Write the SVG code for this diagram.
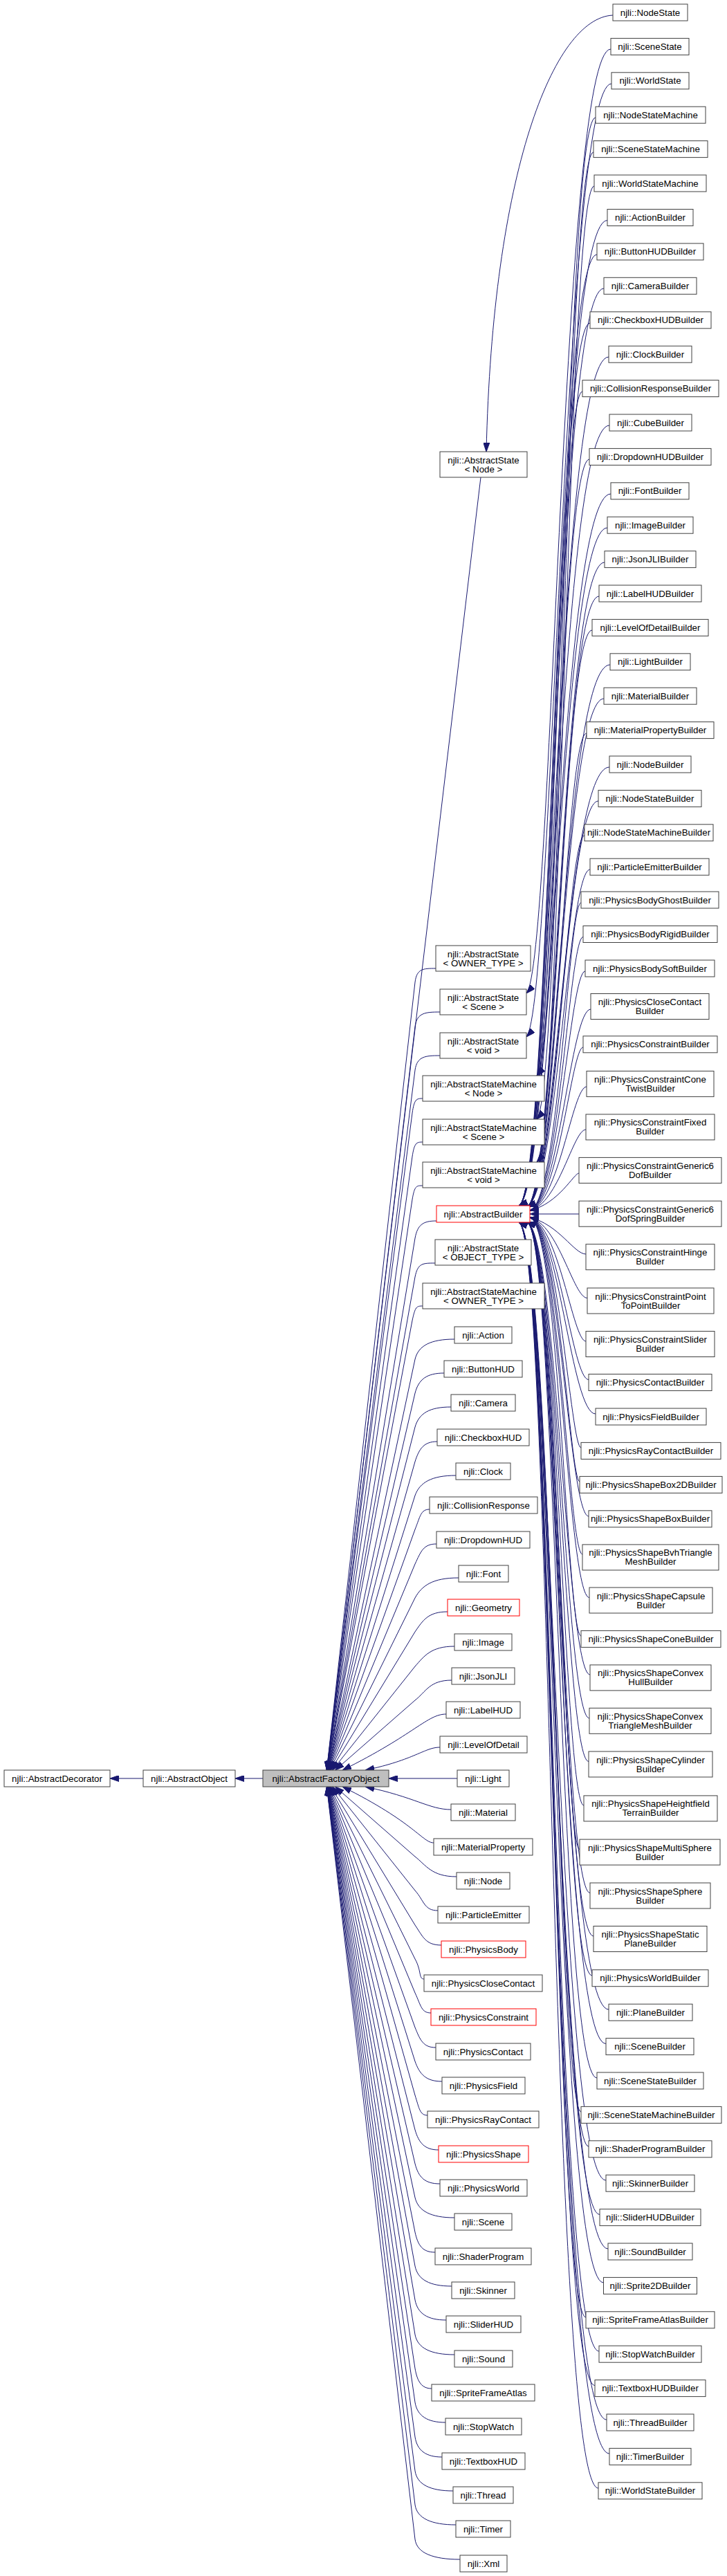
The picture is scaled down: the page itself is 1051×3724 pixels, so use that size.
<svg xmlns="http://www.w3.org/2000/svg" width="1051" height="3724" viewBox="0 0 1051 3724">
<style>
.node rect{fill:#ffffff;stroke:#404040;stroke-width:1}
.node.red rect{stroke:#ff0000}
.node.cur rect{fill:#bfbfbf}
.node text{font-family:"Liberation Sans",Arial,Helvetica,sans-serif;font-size:13.3px;text-anchor:middle;fill:#000000}
#edges path{fill:none;stroke:#191970;stroke-width:1;marker-end:url(#arr)}
</style>
<defs>
<marker id="arr" viewBox="0 0 13 9" refX="13" refY="4.5" markerWidth="13" markerHeight="9" markerUnits="userSpaceOnUse" orient="auto"><path d="M0,0 L13,4.5 L0,9 z" fill="#191970" stroke="#191970" stroke-width="1"/></marker>
</defs>
<rect x="0" y="0" width="1051" height="3724" fill="#ffffff"/>
<g id="edges">
<path d="M207,2571 L159,2571"/>
<path d="M380,2571 L340,2571"/>
<path d="M695,690 L472.4,2559"/>
<path d="M630,1400 C612,1400 602.5,1400 600,1420 L472.3,2559"/>
<path d="M636,1463 C615,1463 602.7,1464 600,1484 L472.4,2559"/>
<path d="M636,1526 C615,1526 602.8,1527 600,1547 L472.5,2559"/>
<path d="M611,1588 C602,1588 598.9,1589 596,1609 L472.6,2559"/>
<path d="M611,1651 C602,1651 599.1,1652 596,1672 L472.7,2559"/>
<path d="M611,1714 C602,1714 599.4,1714 596,1734 L472.8,2559"/>
<path d="M631,1765 C612,1765 603.7,1770 600,1790 L473,2559"/>
<path d="M629,1826 C611,1826 604,1826 600,1846 L473.1,2559"/>
<path d="M611,1888 C602,1888 600.3,1889 596,1909 L473.3,2559"/>
<path d="M657,1936 C623,1936 604.8,1945 600,1965 L473.6,2559"/>
<path d="M642,1985 C617,1985 605.2,1994 600,2014 L473.8,2559"/>
<path d="M652,2034 C621,2034 605.7,2043 600,2063 L474,2559"/>
<path d="M632,2084 C613,2084 606,2094 600,2113 L474.4,2559"/>
<path d="M659,2133 C624,2133 606.7,2143.1 600,2162 L474.8,2559"/>
<path d="M621,2182 C608,2182 607.5,2192.5 600,2211 L475.3,2559"/>
<path d="M631,2232 C612,2232 608.5,2242.9 600,2261 L476,2559"/>
<path d="M663,2281 C625,2281 609.7,2292.5 600,2310 L476.9,2559"/>
<path d="M647,2330 C619,2330 611.3,2342.5 600,2359 L478.3,2559"/>
<path d="M657,2380 C623,2380 613.3,2394.1 600,2409 L480.6,2559"/>
<path d="M653,2429 C621,2429 615.8,2445.7 600,2458 L484.7,2559"/>
<path d="M645,2478 C618,2478 600,2507 495.2,2559"/>
<path d="M636,2526 C614,2526 600,2544 528.3,2559"/>
<path d="M661,2571 L562,2571"/>
<path d="M652,2616 C621,2616 600,2598 528.3,2583"/>
<path d="M627,2664 C611,2664 600,2635 495.2,2583"/>
<path d="M660,2713 C624,2713 615.8,2696.3 600,2684 L484.7,2583"/>
<path d="M633,2762 C613,2762 613.3,2747.9 600,2733 L480.6,2583"/>
<path d="M638,2812 C615,2812 611.3,2799.5 600,2783 L478.3,2583"/>
<path d="M613,2861 C605,2861 609.7,2849.5 600,2832 L476.9,2583"/>
<path d="M623,2910 C609,2910 608.5,2899 600,2881 L476,2583"/>
<path d="M630,2960 C612,2960 607.5,2949.5 600,2931 L475.3,2583"/>
<path d="M639,3009 C616,3009 606.7,2998.9 600,2980 L474.8,2583"/>
<path d="M618,3058 C607,3058 606,3048 600,3029 L474.4,2583"/>
<path d="M634,3108 C614,3108 605.5,3098 600,3079 L474,2583"/>
<path d="M636,3157 C614,3157 605,3147.4 600,3128 L473.8,2583"/>
<path d="M657,3206 C623,3206 604.7,3196.5 600,3177 L473.6,2583"/>
<path d="M629,3256 C611,3256 604.3,3246.5 600,3227 L473.4,2583"/>
<path d="M653,3305 C621,3305 604,3295.6 600,3276 L473.2,2583"/>
<path d="M645,3354 C618,3354 603.8,3344.6 600,3325 L473.1,2583"/>
<path d="M657,3404 C623,3404 603.6,3394.7 600,3375 L472.9,2583"/>
<path d="M624,3453 C610,3453 603.4,3443.7 600,3424 L472.8,2583"/>
<path d="M644,3502 C618,3502 603.2,3492.7 600,3473 L472.7,2583"/>
<path d="M639,3552 C616,3552 603,3542.8 600,3523 L472.6,2583"/>
<path d="M655,3601 C622,3601 602.9,3591.8 600,3572 L472.5,2583"/>
<path d="M659,3650 C624,3650 602.7,3640.8 600,3621 L472.5,2583"/>
<path d="M665,3700 C626,3700 602.6,3690.8 600,3671 L472.4,2583"/>
<path d="M886,22 C800,26 712,250 703,653"/>
<path d="M883,71 C812,71 800,1395 761,1436"/>
<path d="M884,121 C814,121 800,1458 761,1499"/>
<path d="M861,170 C816,170 812,1515 776,1555"/>
<path d="M858,220 C818,220 812,1578 776,1618"/>
<path d="M859,269 C820,269 812,1640 776,1680"/>
<path d="M878,318.5 C800,318.5 798,1724 750,1743"/>
<path d="M863,368 C801,368 798,1724 750,1743"/>
<path d="M873,417 C802,417 798,1724 750,1743"/>
<path d="M853,467 C803,467 798,1724 750,1743"/>
<path d="M880,516 C804,516 798,1724 750,1743"/>
<path d="M842,566 C805.5,566 798,1724 750,1743"/>
<path d="M881,615 C806.6,615 798,1724 750,1743"/>
<path d="M852,664 C807.7,664 798,1724 750,1743"/>
<path d="M883,714 C808.8,714 798,1724 750,1743"/>
<path d="M878,763 C810,763 798,1724 750,1743"/>
<path d="M874,813 C811,813 805,1728 762,1744"/>
<path d="M866,862 C812,862 805,1728 762,1744"/>
<path d="M856,911 C813,911 805,1728 762,1744"/>
<path d="M882,961 C814,961 805,1728 762,1744"/>
<path d="M873,1010 C815,1010 805,1728 762,1744"/>
<path d="M848,1060 C816.5,1060 805,1728 762,1744"/>
<path d="M881,1109 C817.6,1109 805,1728 762,1744"/>
<path d="M865,1158 C818.7,1158 805,1728 762,1744"/>
<path d="M845,1208 C819.8,1208 805,1728 762,1744"/>
<path d="M853,1257 C821,1257 805,1728 762,1744"/>
<path d="M840,1305 C822,1305 808,1740 766,1750"/>
<path d="M843,1354.5 C823,1354.5 808,1740 766,1750"/>
<path d="M846,1404 C824,1404 808,1740 766,1750"/>
<path d="M854,1459 C825,1459 808,1740 766,1750"/>
<path d="M843,1514 C826,1514 808,1740 766,1750"/>
<path d="M848,1571 C827.5,1571 808,1740 766,1750"/>
<path d="M847,1633 C828.6,1633 808,1740 766,1750"/>
<path d="M837,1696 C829.7,1696 808,1740 766,1750"/>
<path d="M837,1755 L766,1755"/>
<path d="M847,1813 C830,1813 808,1770 766,1760"/>
<path d="M849,1876.5 C829,1876.5 808,1770 766,1760"/>
<path d="M847,1939 C828,1939 808,1770 766,1760"/>
<path d="M851,1994.5 C827,1994.5 808,1770 766,1760"/>
<path d="M861,2044 C826,2044 808,1770 766,1760"/>
<path d="M840,2093 C825,2093 808,1770 766,1760"/>
<path d="M838,2142 C824,2142 808,1770 766,1760"/>
<path d="M851,2192 C823,2192 808,1770 766,1760"/>
<path d="M842,2247 C822,2247 808,1770 766,1760"/>
<path d="M852,2309.5 C821,2309.5 808,1770 766,1760"/>
<path d="M840,2365 C819.5,2365 808,1770 766,1760"/>
<path d="M853,2421 C818.5,2421 805,1782 762,1767"/>
<path d="M852,2484 C817.4,2484 805,1782 762,1767"/>
<path d="M851,2546.5 C816.4,2546.5 805,1782 762,1767"/>
<path d="M844,2610 C815.3,2610 805,1782 762,1767"/>
<path d="M838,2673.5 C814.3,2673.5 805,1782 762,1767"/>
<path d="M853,2736.5 C813.2,2736.5 805,1782 762,1767"/>
<path d="M858,2799 C812.2,2799 805,1782 762,1767"/>
<path d="M856,2856 C811,2856 805,1782 762,1767"/>
<path d="M880,2905 C810,2905 805,1782 762,1767"/>
<path d="M876,2954.5 C809,2954.5 805,1782 762,1767"/>
<path d="M863,3004 C808,3004 805,1782 762,1767"/>
<path d="M840,3053 C807,3053 798,1786 750,1767"/>
<path d="M851,3103 C806,3103 798,1786 750,1767"/>
<path d="M876,3152 C805,3152 798,1786 750,1767"/>
<path d="M867,3201.5 C804,3201.5 798,1786 750,1767"/>
<path d="M879,3251 C803,3251 798,1786 750,1767"/>
<path d="M872.5,3300 C802,3300 798,1786 750,1767"/>
<path d="M847,3350 C801,3350 798,1786 750,1767"/>
<path d="M866,3399 C800,3399 798,1786 750,1767"/>
<path d="M860,3448.5 C798.5,3448.5 798,1786 750,1767"/>
<path d="M877,3498 C797.5,3498 798,1786 750,1767"/>
<path d="M881,3547 C796.4,3547 798,1786 750,1767"/>
<path d="M865,3597 C795.4,3597 798,1786 750,1767"/>
</g>
<g id="n_AbstractDecorator" class="node"><rect x="6" y="2559" width="153" height="24"/><text x="82.5" y="2575.5">njli::AbstractDecorator</text></g>
<g id="n_AbstractObject" class="node"><rect x="207" y="2559" width="133" height="24"/><text x="273.5" y="2575.5">njli::AbstractObject</text></g>
<g id="n_AbstractFactoryObject" class="node cur"><rect x="380" y="2559" width="182" height="24"/><text x="471" y="2575.5">njli::AbstractFactoryObject</text></g>
<g id="n_AbstractState_Node" class="node"><rect x="636" y="653" width="126" height="37"/><text x="699" y="669.5">njli::AbstractState</text><text x="699" y="682.5">&lt; Node &gt;</text></g>
<g id="n_AbstractState_OWNER" class="node"><rect x="630" y="1367" width="137" height="37"/><text x="698.5" y="1383.5">njli::AbstractState</text><text x="698.5" y="1396.5">&lt; OWNER_TYPE &gt;</text></g>
<g id="n_AbstractState_Scene" class="node"><rect x="636" y="1430" width="125" height="37"/><text x="698.5" y="1446.5">njli::AbstractState</text><text x="698.5" y="1459.5">&lt; Scene &gt;</text></g>
<g id="n_AbstractState_void" class="node"><rect x="636" y="1493" width="125" height="37"/><text x="698.5" y="1509.5">njli::AbstractState</text><text x="698.5" y="1522.5">&lt; void &gt;</text></g>
<g id="n_ASM_Node" class="node"><rect x="611" y="1555" width="176" height="37"/><text x="699" y="1571.5">njli::AbstractStateMachine</text><text x="699" y="1584.5">&lt; Node &gt;</text></g>
<g id="n_ASM_Scene" class="node"><rect x="611" y="1618" width="176" height="37"/><text x="699" y="1634.5">njli::AbstractStateMachine</text><text x="699" y="1647.5">&lt; Scene &gt;</text></g>
<g id="n_ASM_void" class="node"><rect x="611" y="1680" width="176" height="37"/><text x="699" y="1696.5">njli::AbstractStateMachine</text><text x="699" y="1709.5">&lt; void &gt;</text></g>
<g id="n_AbstractBuilder" class="node red"><rect x="631" y="1743" width="135" height="24"/><text x="698.5" y="1759.5">njli::AbstractBuilder</text></g>
<g id="n_AbstractState_OBJECT" class="node"><rect x="629" y="1792" width="139" height="37"/><text x="698.5" y="1808.5">njli::AbstractState</text><text x="698.5" y="1821.5">&lt; OBJECT_TYPE &gt;</text></g>
<g id="n_ASM_OWNER" class="node"><rect x="611" y="1855" width="176" height="37"/><text x="699" y="1871.5">njli::AbstractStateMachine</text><text x="699" y="1884.5">&lt; OWNER_TYPE &gt;</text></g>
<g id="n_Action" class="node"><rect x="657" y="1918" width="83" height="24"/><text x="698.5" y="1934.5">njli::Action</text></g>
<g id="n_ButtonHUD" class="node"><rect x="642" y="1967" width="113" height="24"/><text x="698.5" y="1983.5">njli::ButtonHUD</text></g>
<g id="n_Camera" class="node"><rect x="652" y="2016" width="93" height="24"/><text x="698.5" y="2032.5">njli::Camera</text></g>
<g id="n_CheckboxHUD" class="node"><rect x="632" y="2066" width="133" height="24"/><text x="698.5" y="2082.5">njli::CheckboxHUD</text></g>
<g id="n_Clock" class="node"><rect x="659" y="2115" width="79" height="24"/><text x="698.5" y="2131.5">njli::Clock</text></g>
<g id="n_CollisionResponse" class="node"><rect x="621" y="2164" width="156" height="24"/><text x="699" y="2180.5">njli::CollisionResponse</text></g>
<g id="n_DropdownHUD" class="node"><rect x="631" y="2214" width="135" height="24"/><text x="698.5" y="2230.5">njli::DropdownHUD</text></g>
<g id="n_Font" class="node"><rect x="663" y="2263" width="72" height="24"/><text x="699" y="2279.5">njli::Font</text></g>
<g id="n_Geometry" class="node red"><rect x="647" y="2312" width="104" height="24"/><text x="699" y="2328.5">njli::Geometry</text></g>
<g id="n_Image" class="node"><rect x="657" y="2362" width="83" height="24"/><text x="698.5" y="2378.5">njli::Image</text></g>
<g id="n_JsonJLI" class="node"><rect x="653" y="2411" width="91" height="24"/><text x="698.5" y="2427.5">njli::JsonJLI</text></g>
<g id="n_LabelHUD" class="node"><rect x="645" y="2460" width="107" height="24"/><text x="698.5" y="2476.5">njli::LabelHUD</text></g>
<g id="n_LevelOfDetail" class="node"><rect x="636" y="2510" width="126" height="24"/><text x="699" y="2526.5">njli::LevelOfDetail</text></g>
<g id="n_Light" class="node"><rect x="661" y="2559" width="75" height="24"/><text x="698.5" y="2575.5">njli::Light</text></g>
<g id="n_Material" class="node"><rect x="652" y="2608" width="93" height="24"/><text x="698.5" y="2624.5">njli::Material</text></g>
<g id="n_MaterialProperty" class="node"><rect x="627" y="2658" width="143" height="24"/><text x="698.5" y="2674.5">njli::MaterialProperty</text></g>
<g id="n_Node" class="node"><rect x="660" y="2707" width="77" height="24"/><text x="698.5" y="2723.5">njli::Node</text></g>
<g id="n_ParticleEmitter" class="node"><rect x="633" y="2756" width="132" height="24"/><text x="699" y="2772.5">njli::ParticleEmitter</text></g>
<g id="n_PhysicsBody" class="node red"><rect x="638" y="2806" width="122" height="24"/><text x="699" y="2822.5">njli::PhysicsBody</text></g>
<g id="n_PhysicsCloseContact" class="node"><rect x="613" y="2855" width="171" height="24"/><text x="698.5" y="2871.5">njli::PhysicsCloseContact</text></g>
<g id="n_PhysicsConstraint" class="node red"><rect x="623" y="2904" width="152" height="24"/><text x="699" y="2920.5">njli::PhysicsConstraint</text></g>
<g id="n_PhysicsContact" class="node"><rect x="630" y="2954" width="137" height="24"/><text x="698.5" y="2970.5">njli::PhysicsContact</text></g>
<g id="n_PhysicsField" class="node"><rect x="639" y="3003" width="120" height="24"/><text x="699" y="3019.5">njli::PhysicsField</text></g>
<g id="n_PhysicsRayContact" class="node"><rect x="618" y="3052" width="161" height="24"/><text x="698.5" y="3068.5">njli::PhysicsRayContact</text></g>
<g id="n_PhysicsShape" class="node red"><rect x="634" y="3102" width="130" height="24"/><text x="699" y="3118.5">njli::PhysicsShape</text></g>
<g id="n_PhysicsWorld" class="node"><rect x="636" y="3151" width="126" height="24"/><text x="699" y="3167.5">njli::PhysicsWorld</text></g>
<g id="n_Scene" class="node"><rect x="657" y="3200" width="83" height="24"/><text x="698.5" y="3216.5">njli::Scene</text></g>
<g id="n_ShaderProgram" class="node"><rect x="629" y="3250" width="139" height="24"/><text x="698.5" y="3266.5">njli::ShaderProgram</text></g>
<g id="n_Skinner" class="node"><rect x="653" y="3299" width="91" height="24"/><text x="698.5" y="3315.5">njli::Skinner</text></g>
<g id="n_SliderHUD" class="node"><rect x="645" y="3348" width="108" height="24"/><text x="699" y="3364.5">njli::SliderHUD</text></g>
<g id="n_Sound" class="node"><rect x="657" y="3398" width="84" height="24"/><text x="699" y="3414.5">njli::Sound</text></g>
<g id="n_SpriteFrameAtlas" class="node"><rect x="624" y="3447" width="149" height="24"/><text x="698.5" y="3463.5">njli::SpriteFrameAtlas</text></g>
<g id="n_StopWatch" class="node"><rect x="644" y="3496" width="110" height="24"/><text x="699" y="3512.5">njli::StopWatch</text></g>
<g id="n_TextboxHUD" class="node"><rect x="639" y="3546" width="120" height="24"/><text x="699" y="3562.5">njli::TextboxHUD</text></g>
<g id="n_Thread" class="node"><rect x="655" y="3595" width="87" height="24"/><text x="698.5" y="3611.5">njli::Thread</text></g>
<g id="n_Timer" class="node"><rect x="659" y="3644" width="79" height="24"/><text x="698.5" y="3660.5">njli::Timer</text></g>
<g id="n_Xml" class="node"><rect x="665" y="3694" width="68" height="24"/><text x="699" y="3710.5">njli::Xml</text></g>
<g id="n_NodeState" class="node"><rect x="886" y="6" width="108" height="24"/><text x="940" y="22.5">njli::NodeState</text></g>
<g id="n_SceneState" class="node"><rect x="883" y="55.4" width="113" height="24"/><text x="939.5" y="71.9">njli::SceneState</text></g>
<g id="n_WorldState" class="node"><rect x="884" y="104.8" width="112" height="24"/><text x="940" y="121.3">njli::WorldState</text></g>
<g id="n_NodeStateMachine" class="node"><rect x="861" y="154.2" width="159" height="24"/><text x="940.5" y="170.7">njli::NodeStateMachine</text></g>
<g id="n_SceneStateMachine" class="node"><rect x="858" y="203.6" width="165" height="24"/><text x="940.5" y="220.1">njli::SceneStateMachine</text></g>
<g id="n_WorldStateMachine" class="node"><rect x="859" y="253" width="162" height="24"/><text x="940" y="269.5">njli::WorldStateMachine</text></g>
<g id="n_ActionBuilder" class="node"><rect x="878" y="302.5" width="124" height="24"/><text x="940" y="319">njli::ActionBuilder</text></g>
<g id="n_ButtonHUDBuilder" class="node"><rect x="863" y="351.9" width="154" height="24"/><text x="940" y="368.4">njli::ButtonHUDBuilder</text></g>
<g id="n_CameraBuilder" class="node"><rect x="873" y="401.3" width="134" height="24"/><text x="940" y="417.8">njli::CameraBuilder</text></g>
<g id="n_CheckboxHUDBuilder" class="node"><rect x="853" y="450.8" width="175" height="24"/><text x="940.5" y="467.3">njli::CheckboxHUDBuilder</text></g>
<g id="n_ClockBuilder" class="node"><rect x="880" y="500.2" width="120" height="24"/><text x="940" y="516.7">njli::ClockBuilder</text></g>
<g id="n_CollisionResponseBuilder" class="node"><rect x="842" y="549.6" width="197" height="24"/><text x="940.5" y="566.1">njli::CollisionResponseBuilder</text></g>
<g id="n_CubeBuilder" class="node"><rect x="881" y="599" width="119" height="24"/><text x="940.5" y="615.5">njli::CubeBuilder</text></g>
<g id="n_DropdownHUDBuilder" class="node"><rect x="852" y="648.4" width="176" height="24"/><text x="940" y="664.9">njli::DropdownHUDBuilder</text></g>
<g id="n_FontBuilder" class="node"><rect x="883" y="697.8" width="113" height="24"/><text x="939.5" y="714.3">njli::FontBuilder</text></g>
<g id="n_ImageBuilder" class="node"><rect x="878" y="747.2" width="124" height="24"/><text x="940" y="763.7">njli::ImageBuilder</text></g>
<g id="n_JsonJLIBuilder" class="node"><rect x="874" y="796.6" width="132" height="24"/><text x="940" y="813.1">njli::JsonJLIBuilder</text></g>
<g id="n_LabelHUDBuilder" class="node"><rect x="866" y="846" width="148" height="24"/><text x="940" y="862.5">njli::LabelHUDBuilder</text></g>
<g id="n_LevelOfDetailBuilder" class="node"><rect x="856" y="895.4" width="168" height="24"/><text x="940" y="911.9">njli::LevelOfDetailBuilder</text></g>
<g id="n_LightBuilder" class="node"><rect x="882" y="944.8" width="116" height="24"/><text x="940" y="961.3">njli::LightBuilder</text></g>
<g id="n_MaterialBuilder" class="node"><rect x="873" y="994.2" width="134" height="24"/><text x="940" y="1010.7">njli::MaterialBuilder</text></g>
<g id="n_MaterialPropertyBuilder" class="node"><rect x="848" y="1043.6" width="184" height="24"/><text x="940" y="1060.1">njli::MaterialPropertyBuilder</text></g>
<g id="n_NodeBuilder" class="node"><rect x="881" y="1093" width="118" height="24"/><text x="940" y="1109.5">njli::NodeBuilder</text></g>
<g id="n_NodeStateBuilder" class="node"><rect x="865" y="1142.4" width="149" height="24"/><text x="939.5" y="1158.9">njli::NodeStateBuilder</text></g>
<g id="n_NodeStateMachineBuilder" class="node"><rect x="845" y="1191.8" width="186" height="24"/><text x="938" y="1208.3">njli::NodeStateMachineBuilder</text></g>
<g id="n_ParticleEmitterBuilder" class="node"><rect x="853" y="1241.2" width="172" height="24"/><text x="939" y="1257.7">njli::ParticleEmitterBuilder</text></g>
<g id="n_PhysicsBodyGhostBuilder" class="node"><rect x="840" y="1289" width="199" height="24"/><text x="939.5" y="1305.5">njli::PhysicsBodyGhostBuilder</text></g>
<g id="n_PhysicsBodyRigidBuilder" class="node"><rect x="843" y="1338.5" width="194" height="24"/><text x="940" y="1355">njli::PhysicsBodyRigidBuilder</text></g>
<g id="n_PhysicsBodySoftBuilder" class="node"><rect x="846" y="1388" width="187" height="24"/><text x="939.5" y="1404.5">njli::PhysicsBodySoftBuilder</text></g>
<g id="n_PhysicsCloseContactBuilder" class="node"><rect x="854" y="1436.5" width="171" height="37"/><text x="939.5" y="1453">njli::PhysicsCloseContact</text><text x="939.5" y="1466">Builder</text></g>
<g id="n_PhysicsConstraintBuilder" class="node"><rect x="843" y="1497.8" width="194" height="24"/><text x="940" y="1514.3">njli::PhysicsConstraintBuilder</text></g>
<g id="n_PhysicsConstraintConeTwistBuilder" class="node"><rect x="848" y="1548.4" width="184" height="37"/><text x="940" y="1564.9">njli::PhysicsConstraintCone</text><text x="940" y="1577.9">TwistBuilder</text></g>
<g id="n_PhysicsConstraintFixedBuilder" class="node"><rect x="847" y="1610.9" width="186" height="37"/><text x="940" y="1627.4">njli::PhysicsConstraintFixed</text><text x="940" y="1640.4">Builder</text></g>
<g id="n_PhysicsConstraintGeneric6DofBuilder" class="node"><rect x="837" y="1673.4" width="206" height="37"/><text x="940" y="1689.9">njli::PhysicsConstraintGeneric6</text><text x="940" y="1702.9">DofBuilder</text></g>
<g id="n_PhysicsConstraintGeneric6DofSpringBuilder" class="node"><rect x="837" y="1736.2" width="206" height="37"/><text x="940" y="1752.7">njli::PhysicsConstraintGeneric6</text><text x="940" y="1765.7">DofSpringBuilder</text></g>
<g id="n_PhysicsConstraintHingeBuilder" class="node"><rect x="847" y="1798.7" width="186" height="37"/><text x="940" y="1815.2">njli::PhysicsConstraintHinge</text><text x="940" y="1828.2">Builder</text></g>
<g id="n_PhysicsConstraintPointToPointBuilder" class="node"><rect x="849" y="1862" width="183" height="37"/><text x="940.5" y="1878.5">njli::PhysicsConstraintPoint</text><text x="940.5" y="1891.5">ToPointBuilder</text></g>
<g id="n_PhysicsConstraintSliderBuilder" class="node"><rect x="847" y="1924.5" width="186" height="37"/><text x="940" y="1941">njli::PhysicsConstraintSlider</text><text x="940" y="1954">Builder</text></g>
<g id="n_PhysicsContactBuilder" class="node"><rect x="851" y="1986.5" width="178" height="24"/><text x="940" y="2003">njli::PhysicsContactBuilder</text></g>
<g id="n_PhysicsFieldBuilder" class="node"><rect x="861" y="2036" width="160" height="24"/><text x="941" y="2052.5">njli::PhysicsFieldBuilder</text></g>
<g id="n_PhysicsRayContactBuilder" class="node"><rect x="840" y="2085.4" width="202" height="24"/><text x="941" y="2101.9">njli::PhysicsRayContactBuilder</text></g>
<g id="n_PhysicsShapeBox2DBuilder" class="node"><rect x="838" y="2134.4" width="206" height="24"/><text x="941" y="2150.9">njli::PhysicsShapeBox2DBuilder</text></g>
<g id="n_PhysicsShapeBoxBuilder" class="node"><rect x="851" y="2183.8" width="178" height="24"/><text x="940" y="2200.3">njli::PhysicsShapeBoxBuilder</text></g>
<g id="n_PhysicsShapeBvhTriangleMeshBuilder" class="node"><rect x="842" y="2232.9" width="197" height="37"/><text x="940.5" y="2249.4">njli::PhysicsShapeBvhTriangle</text><text x="940.5" y="2262.4">MeshBuilder</text></g>
<g id="n_PhysicsShapeCapsuleBuilder" class="node"><rect x="852" y="2295" width="178" height="37"/><text x="941" y="2311.5">njli::PhysicsShapeCapsule</text><text x="941" y="2324.5">Builder</text></g>
<g id="n_PhysicsShapeConeBuilder" class="node"><rect x="840" y="2357.4" width="202" height="24"/><text x="941" y="2373.9">njli::PhysicsShapeConeBuilder</text></g>
<g id="n_PhysicsShapeConvexHullBuilder" class="node"><rect x="853" y="2406.9" width="175" height="37"/><text x="940.5" y="2423.4">njli::PhysicsShapeConvex</text><text x="940.5" y="2436.4">HullBuilder</text></g>
<g id="n_PhysicsShapeConvexTriangleMeshBuilder" class="node"><rect x="852" y="2469.3" width="176" height="37"/><text x="940" y="2485.8">njli::PhysicsShapeConvex</text><text x="940" y="2498.8">TriangleMeshBuilder</text></g>
<g id="n_PhysicsShapeCylinderBuilder" class="node"><rect x="851" y="2532" width="179" height="37"/><text x="940.5" y="2548.5">njli::PhysicsShapeCylinder</text><text x="940.5" y="2561.5">Builder</text></g>
<g id="n_PhysicsShapeHeightfieldTerrainBuilder" class="node"><rect x="844" y="2595.9" width="193" height="37"/><text x="940.5" y="2612.4">njli::PhysicsShapeHeightfield</text><text x="940.5" y="2625.4">TerrainBuilder</text></g>
<g id="n_PhysicsShapeMultiSphereBuilder" class="node"><rect x="838" y="2659.1" width="203" height="37"/><text x="939.5" y="2675.6">njli::PhysicsShapeMultiSphere</text><text x="939.5" y="2688.6">Builder</text></g>
<g id="n_PhysicsShapeSphereBuilder" class="node"><rect x="853" y="2722" width="174" height="37"/><text x="940" y="2738.5">njli::PhysicsShapeSphere</text><text x="940" y="2751.5">Builder</text></g>
<g id="n_PhysicsShapeStaticPlaneBuilder" class="node"><rect x="858" y="2784.5" width="164" height="37"/><text x="940" y="2801">njli::PhysicsShapeStatic</text><text x="940" y="2814">PlaneBuilder</text></g>
<g id="n_PhysicsWorldBuilder" class="node"><rect x="856" y="2847.7" width="168" height="24"/><text x="940" y="2864.2">njli::PhysicsWorldBuilder</text></g>
<g id="n_PlaneBuilder" class="node"><rect x="880" y="2897.2" width="121" height="24"/><text x="940.5" y="2913.7">njli::PlaneBuilder</text></g>
<g id="n_SceneBuilder" class="node"><rect x="876" y="2946.6" width="127" height="24"/><text x="939.5" y="2963.1">njli::SceneBuilder</text></g>
<g id="n_SceneStateBuilder" class="node"><rect x="863" y="2996" width="154" height="24"/><text x="940" y="3012.5">njli::SceneStateBuilder</text></g>
<g id="n_SceneStateMachineBuilder" class="node"><rect x="840" y="3045.4" width="203" height="24"/><text x="941.5" y="3061.9">njli::SceneStateMachineBuilder</text></g>
<g id="n_ShaderProgramBuilder" class="node"><rect x="851" y="3094.8" width="178" height="24"/><text x="940" y="3111.3">njli::ShaderProgramBuilder</text></g>
<g id="n_SkinnerBuilder" class="node"><rect x="876" y="3144.2" width="128" height="24"/><text x="940" y="3160.7">njli::SkinnerBuilder</text></g>
<g id="n_SliderHUDBuilder" class="node"><rect x="867" y="3193.6" width="146" height="24"/><text x="940" y="3210.1">njli::SliderHUDBuilder</text></g>
<g id="n_SoundBuilder" class="node"><rect x="879" y="3243" width="122" height="24"/><text x="940" y="3259.5">njli::SoundBuilder</text></g>
<g id="n_Sprite2DBuilder" class="node"><rect x="872.5" y="3292.4" width="135" height="24"/><text x="940" y="3308.9">njli::Sprite2DBuilder</text></g>
<g id="n_SpriteFrameAtlasBuilder" class="node"><rect x="847" y="3341.8" width="186" height="24"/><text x="940" y="3358.3">njli::SpriteFrameAtlasBuilder</text></g>
<g id="n_StopWatchBuilder" class="node"><rect x="866" y="3391.2" width="148" height="24"/><text x="940" y="3407.7">njli::StopWatchBuilder</text></g>
<g id="n_TextboxHUDBuilder" class="node"><rect x="860" y="3440.6" width="160" height="24"/><text x="940" y="3457.1">njli::TextboxHUDBuilder</text></g>
<g id="n_ThreadBuilder" class="node"><rect x="877" y="3490" width="126" height="24"/><text x="940" y="3506.5">njli::ThreadBuilder</text></g>
<g id="n_TimerBuilder" class="node"><rect x="881" y="3539.4" width="118" height="24"/><text x="940" y="3555.9">njli::TimerBuilder</text></g>
<g id="n_WorldStateBuilder" class="node"><rect x="865" y="3588.8" width="150" height="24"/><text x="940" y="3605.3">njli::WorldStateBuilder</text></g>
</svg>
